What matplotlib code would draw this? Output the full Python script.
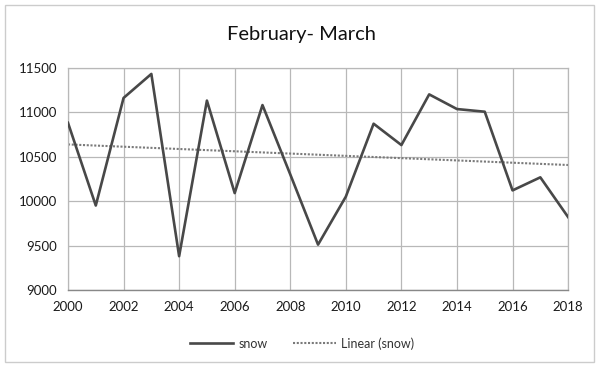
import numpy as np
import matplotlib
matplotlib.use('Agg')
import matplotlib.pyplot as plt
from matplotlib.patches import Rectangle

years = list(range(2000, 2019))
snow = [10880, 9950, 11160, 11430, 9380, 11130, 10090, 11080, 10300, 9510,
        10050, 10870, 10630, 11200, 11035, 11005, 10120, 10267, 9820]
y_ticks = [9000, 9500, 10000, 10500, 11000, 11500]
x_ticks = list(range(2000, 2019, 2))

plt.rcParams['font.family'] = ['Lato', 'DejaVu Sans']

fig = plt.figure(figsize=(5.98, 3.66), dpi=100)
ax = fig.add_axes([0.1137, 0.2077, 0.8363, 0.6073])

# linear trend of the series
slope, intercept = np.polyfit(years, snow, 1)
trend = [slope * x + intercept for x in years]

ax.plot(years, snow, color='#484848', linewidth=1.9, label='snow', zorder=3)
ax.plot(years, trend, color='#7a7a7a', linewidth=1.5, linestyle=(0, (1, 0.8)),
        label='Linear (snow)', zorder=2)

ax.set_xlim(2000, 2018)
ax.set_ylim(9000, 11500)
ax.set_xticks(x_ticks)
ax.set_yticks(y_ticks)
ax.grid(True, color='#b8b8b8', linewidth=0.9)
ax.set_axisbelow(True)
ax.tick_params(length=0, labelsize=9.5, colors='#1a1a1a', pad=8)
for side in ['top', 'right', 'left']:
    ax.spines[side].set_color('#b8b8b8')
    ax.spines[side].set_linewidth(0.9)
ax.spines['bottom'].set_color('#888888')
ax.spines['bottom'].set_linewidth(1.0)

fig.text(0.505, 0.905, 'February- March', ha='center', va='center',
         fontsize=14.5, color='#111111')

ax.legend(loc='center', bbox_to_anchor=(0.505, 0.062), bbox_transform=fig.transFigure,
          ncol=2, frameon=False, fontsize=9, handlelength=3.5, columnspacing=2.0,
          handletextpad=0.4, labelcolor='#333333')

fig.patches.append(Rectangle((0.008, 0.01), 0.985, 0.975, transform=fig.transFigure,
                             fill=False, edgecolor='#cccccc', linewidth=1.0))

fig.savefig('out.png', dpi=100)
